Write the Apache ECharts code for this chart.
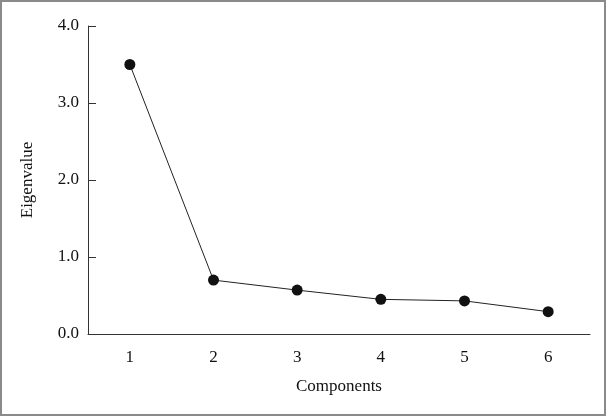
<!DOCTYPE html>
<html>
<head>
<meta charset="utf-8">
<script src="https://cdn.jsdelivr.net/npm/echarts@6/dist/echarts.min.js"></script>
<style>
	html,body{margin:0;padding:0;background:#fff;}
	#box{width:606px;height:416px;box-sizing:border-box;border:2px solid #8a8a8a;position:relative;}
	#chart{position:absolute;left:-2px;top:-2px;width:606px;height:416px;}
</style>
</head>
<body>
<div id="box"><div id="chart"></div></div>
<script>
var components = ['1','2','3','4','5','6'];
var eigenvalues = [3.5, 0.7, 0.57, 0.45, 0.43, 0.29];

var myChart = echarts.init(document.getElementById('chart'));
var font = 'Liberation Serif';
var option = {
	animation: false,
	grid: {left: 88, right: 16, top: 26, bottom: 82},
	xAxis: {
		type: 'category',
		boundaryGap: true,
		data: components,
		name: 'Components',
		nameLocation: 'middle',
		nameGap: 44,
		nameTextStyle: {fontFamily: font, fontSize: 17, color: '#111'},
		axisLine: {lineStyle: {color: '#333', width: 1}},
		axisTick: {show: false},
		axisLabel: {fontFamily: font, fontSize: 17, color: '#111', margin: 15}
	},
	yAxis: {
		type: 'value',
		min: 0, max: 4, interval: 1,
		name: 'Eigenvalue',
		nameLocation: 'middle',
		nameGap: 52,
		nameTextStyle: {fontFamily: font, fontSize: 17, color: '#111'},
		splitLine: {show: false},
		axisLine: {show: true, lineStyle: {color: '#333', width: 1}},
		axisTick: {show: true, inside: true, length: 8, lineStyle: {color: '#333'}},
		axisLabel: {fontFamily: font, fontSize: 17, color: '#111', margin: 9,
			formatter: function(v){ return v.toFixed(1); }}
	},
	series: [{
		type: 'line',
		data: eigenvalues,
		symbol: 'circle',
		symbolSize: 11,
		itemStyle: {color: '#111'},
		lineStyle: {color: '#222', width: 1}
	}]
};
myChart.setOption(option);
</script>
</body>
</html>
